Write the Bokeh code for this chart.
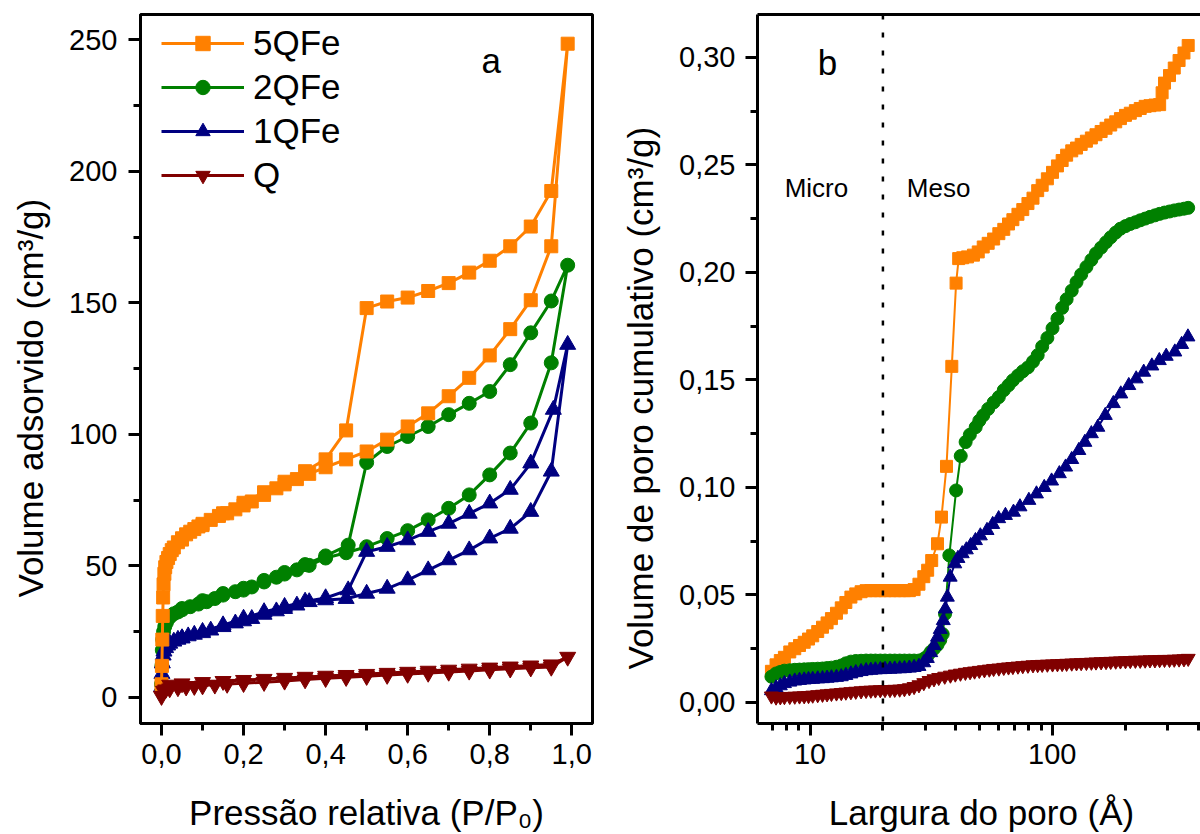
from bokeh.plotting import figure
from bokeh.layouts import row, column
from bokeh.models import (Range1d, FixedTicker, CustomJSTickFormatter, Legend, LegendItem,
                          Span, LogAxis, Label)
from bokeh.embed import file_html
from bokeh.resources import INLINE

FONT = "Liberation Sans"
C5, C2, C1, CQ = "#FF8000", "#008000", "#000080", "#800000"
NAMES = ["5QFe", "2QFe", "1QFe", "Q"]
PAD = "\u00a0" * 6
XLABEL_A = "Pressão relativa (P/P₀)"
XLABEL_B = "Largura do poro (Å)"
YLABEL_A = "Volume adsorvido (cm³/g)"
YLABEL_B = "Volume de poro cumulativo (cm³/g)"

# ---------------- Panel a: isotherms ----------------
p5_ads = [0.0, 0.001, 0.002, 0.003, 0.004, 0.005, 0.007, 0.009, 0.012, 0.016,
          0.02, 0.025, 0.03, 0.04, 0.05, 0.06, 0.07, 0.08, 0.09, 0.1,
          0.12, 0.14, 0.16, 0.18, 0.2, 0.22, 0.25, 0.28, 0.3, 0.33,
          0.36, 0.4, 0.45, 0.5, 0.55, 0.6, 0.65, 0.7, 0.75, 0.8,
          0.85, 0.9, 0.95, 0.99]
v5_ads = [5, 12, 22, 31, 38, 43, 47, 49.5, 51.5, 53,
          54.5, 56, 57, 59, 60.5, 62, 63, 64, 65, 65.5,
          67.5, 69, 70, 71.5, 73, 74.5, 77, 79.5, 81, 83,
          85, 87.5, 90.5, 93.5, 98, 103, 108, 114.5, 121.5, 130,
          140, 151, 171.5, 248.5]
p5_des = [0.95, 0.9, 0.85, 0.8, 0.75, 0.7, 0.65, 0.6, 0.55, 0.5,
          0.45, 0.4, 0.35, 0.3, 0.25, 0.2, 0.15, 0.1, 0.05]
v5_des = [192.5, 179, 171.5, 166, 161.5, 157.5, 154.5, 152, 150.5, 148,
          101.5, 90.5, 86, 82, 78, 74, 70, 66, 60]

p2_ads = [0.0, 0.001, 0.002, 0.003, 0.005, 0.008, 0.012, 0.02, 0.03, 0.04,
          0.05, 0.07, 0.09, 0.11, 0.13, 0.15, 0.18, 0.2, 0.22, 0.25,
          0.28, 0.3, 0.33, 0.36, 0.4, 0.45, 0.5, 0.55, 0.6, 0.65,
          0.7, 0.75, 0.8, 0.85, 0.9, 0.95, 0.99]
v2_ads = [5, 12, 18, 22, 25, 27, 28.5, 30.5, 31.8, 32.5,
          33.3, 34.5, 35.5, 36.4, 37.6, 38.9, 40.2, 40.8, 42, 43.9,
          45.7, 46.9, 48.5, 50.2, 53, 55, 57.3, 60.4, 63.4, 67.5,
          71.9, 77, 84.6, 92.9, 104.3, 127.2, 164.3]
p2_des = [0.95, 0.9, 0.85, 0.8, 0.75, 0.7, 0.65, 0.6, 0.55, 0.5,
          0.455, 0.4, 0.35, 0.3, 0.25, 0.2, 0.15, 0.1, 0.05]
v2_des = [150.7, 138.6, 126.5, 116.3, 111.8, 107.5, 103, 99.2, 95.4, 89.3,
          57.9, 53.8, 50.5, 47.5, 44.5, 41.5, 39.5, 36.8, 33.8]

p1_ads = [0.0, 0.001, 0.002, 0.004, 0.006, 0.01, 0.015, 0.02, 0.03, 0.04,
          0.05, 0.065, 0.08, 0.1, 0.12, 0.15, 0.18, 0.2, 0.22, 0.25,
          0.28, 0.3, 0.33, 0.36, 0.4, 0.45, 0.5, 0.55, 0.6, 0.65,
          0.7, 0.75, 0.8, 0.85, 0.9, 0.95, 0.99]
v1_ads = [4, 9, 13, 16, 17.5, 18.8, 19.8, 20.5, 21.3, 22,
          22.6, 23.3, 23.9, 24.5, 25.5, 26.8, 28.2, 29, 29.9, 31.5,
          32.8, 33.7, 35, 36.3, 37, 37.5, 39.5, 41.4, 44.6, 48.4,
          52.2, 56, 60.5, 64.2, 70.6, 85.9, 134.1]
p1_des = [0.955, 0.9, 0.85, 0.8, 0.75, 0.7, 0.65, 0.6, 0.55, 0.5,
          0.455, 0.4, 0.35, 0.3, 0.25, 0.2, 0.15, 0.1, 0.05]
v1_des = [109.4, 89, 79, 73.8, 69.9, 66.1, 63, 59.8, 57.3, 55.4,
          40.8, 37.8, 36.5, 34.5, 32.5, 30, 27.5, 25, 22.5]

pq_ads = [0.0, 0.005, 0.01, 0.02, 0.04, 0.06, 0.08, 0.1, 0.13, 0.16,
          0.2, 0.25, 0.3, 0.35, 0.4, 0.45, 0.5, 0.55, 0.6, 0.65,
          0.7, 0.75, 0.8, 0.85, 0.9, 0.95, 0.99]
vq_ads = [0.5, 2.5, 3.0, 3.4, 3.8, 4.1, 4.3, 4.5, 4.8, 5.1,
          5.4, 5.8, 6.3, 6.8, 7.3, 7.7, 8.1, 8.5, 8.9, 9.3,
          9.7, 10.1, 10.5, 10.9, 11.3, 11.6, 15.4]
pq_des = [0.95, 0.9, 0.85, 0.8, 0.75, 0.7, 0.65, 0.6, 0.55, 0.5,
          0.45, 0.4, 0.35, 0.3, 0.25, 0.2, 0.15, 0.1, 0.05, 0.02]
vq_des = [12.5, 12.1, 11.7, 11.3, 10.9, 10.5, 10.1, 9.7, 9.3, 8.9,
          8.5, 8.2, 7.8, 7.4, 7.0, 6.6, 6.2, 5.8, 5.3, 4.8]

a_xticks = [0.0, 0.2, 0.4, 0.6, 0.8, 1.0]
a_xminor = [0.1, 0.3, 0.5, 0.7, 0.9]
a_yticks = [0, 50, 100, 150, 200, 250]
a_yminor = [25, 75, 125, 175, 225]

# ---------------- Panel b: cumulative pore volume ----------------
w_low = [6.93, 7.24, 7.54, 7.84, 8.25, 8.65, 9.05, 9.46, 9.86, 10.26,
         10.76, 11.26, 11.76, 12.26, 12.86, 13.46, 14.06, 14.75, 15.45, 16.25,
         17.04, 17.83, 18.62, 19.51, 20.4, 21.39, 22.38, 23.46, 24.54, 25.72,
         26.9, 28.17]

b5_low = [0.0145, 0.0175, 0.0195, 0.021, 0.0235, 0.025, 0.0265, 0.028, 0.0295, 0.031,
          0.033, 0.035, 0.037, 0.039, 0.0415, 0.044, 0.0465, 0.049, 0.0505, 0.0515,
          0.052, 0.052, 0.052, 0.052, 0.052, 0.052, 0.052, 0.052, 0.052, 0.052,
          0.0525, 0.055]
w5_hi = [29.5, 30.6, 31.8, 33.6, 34.9, 36.6, 38.5, 40.1, 41.1,
         42.7, 44.7, 47.3, 49.5, 51.9, 54.4, 57.3, 60.2, 63.1, 66,
         68.8, 72.2, 75.6, 79.4, 83.3, 87.1, 90.9, 95.5, 100.3, 105.1,
         109.9, 114.7, 120.4, 126, 131.7, 138.4, 145.1, 151.6, 159.2, 166.8,
         174.4, 182.9, 191.3, 200.7, 210.1, 220.5, 230.9, 242, 253.3, 265.5,
         277.7, 284.3, 290.9, 305, 319.1, 334, 349.9, 364.3]
b5_hi = [0.0585, 0.0615, 0.066, 0.0738, 0.0862, 0.1098, 0.1563, 0.195, 0.2064,
         0.2068, 0.2072, 0.208, 0.2095, 0.2118, 0.2135, 0.2155, 0.218, 0.22, 0.2225,
         0.2245, 0.227, 0.2292, 0.232, 0.2345, 0.238, 0.2405, 0.2435, 0.2465, 0.2495,
         0.252, 0.2545, 0.2565, 0.2578, 0.2595, 0.261, 0.2625, 0.264, 0.2655, 0.267,
         0.2685, 0.27, 0.2715, 0.273, 0.274, 0.2752, 0.2762, 0.2772, 0.2775, 0.2778,
         0.278, 0.2835, 0.288, 0.2915, 0.295, 0.2985, 0.302, 0.3055]

b2_low = [0.012, 0.0135, 0.0142, 0.0148, 0.015, 0.0152, 0.0153, 0.0154, 0.0155, 0.0156,
          0.0157, 0.0158, 0.016, 0.0162, 0.0166, 0.0172, 0.0182, 0.019, 0.0193, 0.0194,
          0.0195, 0.0195, 0.0195, 0.0195, 0.0195, 0.0195, 0.0195, 0.0195, 0.0195, 0.0195,
          0.0195, 0.0195]
w2_hi = [29.5, 30.5, 31.5, 32.5, 33.6, 34.5, 35.3, 36.1, 37.6, 40.1, 41.9,
         43.9, 45.7, 48.3, 50, 51.9, 54.4, 57.3, 60.2, 63.1, 66,
         68.8, 72.2, 75.6, 79.4, 83.3, 87.1, 90.9, 95.5, 100.3, 105.1,
         109.9, 114.7, 120.4, 126, 131.7, 138.4, 145.1, 151.6, 159.2, 166.8,
         174.4, 182.9, 191.3, 200.7, 210.1, 220.5, 230.9, 242, 253.3, 265.5,
         277.7, 290.9, 305, 319.1, 334, 349.9, 364.3]
b2_hi = [0.0203, 0.0215, 0.0235, 0.025, 0.0268, 0.029, 0.0318, 0.0412, 0.0684, 0.0986, 0.1146,
         0.1211, 0.1245, 0.128, 0.131, 0.1335, 0.1365, 0.1395, 0.142, 0.1452, 0.1475,
         0.1498, 0.152, 0.154, 0.1558, 0.1585, 0.1615, 0.1655, 0.1695, 0.174, 0.1785,
         0.1835, 0.1875, 0.1915, 0.1955, 0.199, 0.2025, 0.2058, 0.2088, 0.2115, 0.214,
         0.2163, 0.2185, 0.2203, 0.2215, 0.2225, 0.2233, 0.2242, 0.225, 0.2258, 0.2265,
         0.2272, 0.2278, 0.2283, 0.2288, 0.2292, 0.2296, 0.23]

b1_low = [0.0055, 0.0068, 0.0078, 0.0088, 0.0095, 0.01, 0.0103, 0.0105, 0.0107, 0.0108,
          0.011, 0.0111, 0.0113, 0.0115, 0.0117, 0.012, 0.0126, 0.0133, 0.0139, 0.0144,
          0.0148, 0.015, 0.0152, 0.0153, 0.0154, 0.0155, 0.0156, 0.0157, 0.0158, 0.016,
          0.0163, 0.0168]
w1_hi = [29.5, 30.5, 31.5, 32.5, 33.6, 34.5, 35.5, 36.2, 36.9, 37.9, 39.6,
         40.8, 42.5, 44.2, 46.1, 48.2, 50.5, 53.8, 56.8, 60.1, 64.1,
         69.2, 73.6, 80.1, 86.1, 92.7, 99.4, 107, 113.6, 120.4, 128.8,
         136.4, 145.1, 154.3, 165.6, 178.8, 191.9, 207.1, 222.2, 238.7, 257.9,
         276.8, 295.6, 320.8, 342.3, 363.4]
b1_hi = [0.0185, 0.0205, 0.0232, 0.0265, 0.0304, 0.034, 0.0381, 0.0435, 0.049, 0.0583, 0.0645,
         0.067, 0.0692, 0.071, 0.073, 0.0753, 0.0775, 0.08, 0.0828, 0.0855, 0.087,
         0.0885, 0.091, 0.094, 0.097, 0.1, 0.103, 0.1064, 0.1095, 0.113, 0.1172,
         0.121, 0.125, 0.128, 0.1335, 0.139, 0.1435, 0.1474, 0.1505, 0.1536, 0.1565,
         0.159, 0.161, 0.163, 0.1665, 0.17]

bq_low = [0.003, 0.0025, 0.0026, 0.0027, 0.0028, 0.0029, 0.003, 0.0031, 0.0032, 0.0034,
          0.0036, 0.0038, 0.004, 0.0042, 0.0044, 0.0046, 0.0048, 0.005, 0.0052, 0.0054,
          0.0056, 0.0057, 0.0058, 0.0059, 0.006, 0.006, 0.0061, 0.0062, 0.0064, 0.0068,
          0.0074, 0.0082]
wq_hi = [29.5, 31, 32.5, 34, 36, 38, 39.8, 41.8, 43.8, 45.8,
         47.8, 50, 52.5, 55, 57.3, 60.2, 63.1, 66, 68.8, 72.2,
         75.6, 79.4, 83.3, 87.1, 90.9, 95.5, 100.3, 105.1, 109.9, 114.7,
         120.4, 126, 131.7, 138.4, 145.1, 151.6, 159.2, 166.8, 174.4, 182.9,
         191.3, 200.7, 210.1, 220.5, 230.9, 242, 253.3, 265.5, 277.7, 290.9,
         305, 319.1, 334, 349.9, 364.3]
bq_hi = [0.0092, 0.0102, 0.011, 0.0116, 0.0122, 0.0127, 0.0132, 0.0136, 0.014, 0.0143,
         0.0146, 0.0149, 0.0152, 0.0155, 0.0158, 0.016, 0.0163, 0.0165, 0.0167, 0.0169,
         0.0171, 0.0173, 0.0175, 0.0176, 0.0177, 0.0178, 0.0179, 0.018, 0.0181, 0.0182,
         0.0183, 0.0184, 0.0185, 0.0186, 0.0187, 0.0188, 0.0189, 0.019, 0.0191, 0.0192,
         0.0193, 0.0194, 0.0195, 0.0196, 0.0196, 0.0197, 0.0198, 0.0198, 0.0199, 0.02,
         0.02, 0.0201, 0.0202, 0.0203, 0.0205]

b_xticks = [10, 100]
b_xminor = [7, 8, 9, 20, 30, 40, 50, 60, 70, 80, 90, 200, 300, 400]
b_yticks = [0.0, 0.05, 0.10, 0.15, 0.20, 0.25, 0.30]
b_yminor = [0.025, 0.075, 0.125, 0.175, 0.225, 0.275]
micro_boundary = 20

PLOT_H = 790       # height of the two panels
STRIP_H = 834 - PLOT_H  # strip below them that carries the x-axis titles


def style_axis(ax, label):
    ax.axis_label = label
    ax.axis_label_text_font = FONT
    ax.axis_label_text_font_size = "35px"
    ax.axis_label_text_font_style = "normal"
    ax.axis_label_text_color = "black"
    ax.major_label_text_font = FONT
    ax.major_label_text_font_size = "29px"
    ax.major_label_text_color = "black"
    ax.axis_line_width = 3
    ax.axis_line_color = "black"
    ax.major_tick_line_width = 3
    ax.minor_tick_line_width = 3
    ax.major_tick_line_color = "black"
    ax.minor_tick_line_color = "black"
    ax.major_tick_in = 0
    ax.major_tick_out = 12
    ax.minor_tick_in = 0
    ax.minor_tick_out = 7


def title_strip(text, xc):
    s = figure(width=600, height=STRIP_H, output_backend="svg", toolbar_location=None,
               title=None, x_range=Range1d(0, 600), y_range=Range1d(0, STRIP_H),
               x_axis_location=None, y_axis_location=None,
               min_border_left=0, min_border_right=0, min_border_top=0, min_border_bottom=0)
    s.grid.visible = False
    s.outline_line_color = None
    s.background_fill_color = "white"
    s.border_fill_color = "white"
    s.add_layout(Label(x=xc, y=22, text=text, text_font=FONT, text_font_size="35px",
                       text_color="black", text_align="center", text_baseline="alphabetic"))
    return s


# ---------- figure a ----------
pa = figure(width=600, height=PLOT_H, output_backend="svg", toolbar_location=None, title=None,
            x_range=Range1d(-0.0512, 1.0505), y_range=Range1d(-9.9, 259.6),
            min_border_left=140, min_border_right=8, min_border_top=14, min_border_bottom=67)
pa.xgrid.visible = False
pa.ygrid.visible = False
pa.outline_line_color = "black"
pa.outline_line_width = 3
pa.background_fill_color = "white"
pa.border_fill_color = "white"

pa.xaxis.ticker = FixedTicker(ticks=a_xticks, minor_ticks=a_xminor)
pa.xaxis.formatter = CustomJSTickFormatter(code="return tick.toFixed(1).replace('.', ',');")
pa.yaxis.ticker = FixedTicker(ticks=a_yticks, minor_ticks=a_yminor)
style_axis(pa.xaxis[0], None)
style_axis(pa.yaxis[0], YLABEL_A + PAD)
pa.xaxis.major_label_standoff = 8
pa.yaxis.major_label_standoff = 11
pa.yaxis.axis_label_standoff = 16

series_a = {
    "5QFe": (p5_ads + p5_des, v5_ads + v5_des, C5, "square", 13),
    "2QFe": (p2_ads + p2_des, v2_ads + v2_des, C2, "circle", 14),
    "1QFe": (p1_ads + p1_des, v1_ads + v1_des, C1, "triangle", 16),
    "Q": (pq_ads + pq_des, vq_ads + vq_des, CQ, "inverted_triangle", 16),
}
rends = {}
for name in ["2QFe", "1QFe", "5QFe", "Q"]:
    xs, ys, col, mk, sz = series_a[name]
    ln = pa.line(xs, ys, line_color=col, line_width=3)
    sc = pa.scatter(xs, ys, marker=mk, size=sz, fill_color=col, line_color=col)
    rends[name] = [ln, sc]
items = [LegendItem(label=n, renderers=rends[n]) for n in NAMES]

leg = Legend(items=items, location=(21, 528), padding=0, margin=0, spacing=4,
             glyph_width=83, glyph_height=36, label_height=36, label_standoff=9,
             label_text_font=FONT, label_text_font_size="35px", label_text_color="black",
             border_line_color=None, background_fill_alpha=0)
pa.add_layout(leg)

pa.add_layout(Label(x=0.78, y=242, text="a", text_font=FONT, text_font_size="35px",
                    text_color="black", text_baseline="alphabetic", text_align="left"))

# ---------- figure b ----------
pb = figure(width=600, height=PLOT_H, output_backend="svg", toolbar_location=None, title=None,
            x_axis_type="log", x_range=Range1d(6.07, 409.5), y_range=Range1d(-0.00977, 0.3199),
            min_border_left=157, min_border_right=0, min_border_top=14, min_border_bottom=67)
pb.xgrid.visible = False
pb.ygrid.visible = False
pb.outline_line_color = None
pb.background_fill_color = "white"
pb.border_fill_color = "white"

pb.xaxis.ticker = FixedTicker(ticks=b_xticks, minor_ticks=b_xminor)
pb.xaxis.formatter = CustomJSTickFormatter(code="return tick.toFixed(0);")
pb.yaxis.ticker = FixedTicker(ticks=b_yticks, minor_ticks=b_yminor)
pb.yaxis.formatter = CustomJSTickFormatter(code="return tick.toFixed(2).replace('.', ',');")
style_axis(pb.xaxis[0], None)
style_axis(pb.yaxis[0], YLABEL_B + PAD)
pb.xaxis.major_label_standoff = 8
pb.yaxis.major_label_standoff = 10
pb.yaxis.axis_label_standoff = 16

top_ax = LogAxis(ticker=FixedTicker(ticks=[], minor_ticks=[]), axis_line_width=3,
                 axis_line_color="black", major_tick_out=0, minor_tick_out=0,
                 major_tick_in=0, minor_tick_in=0, major_label_text_font_size="0px",
                 major_label_standoff=0)
pb.add_layout(top_ax, "above")

pb.add_layout(Span(location=micro_boundary, dimension="height", line_color="black",
                   line_width=2.5, line_dash="5 13"))

series_b = [
    (w_low + w5_hi, b5_low + b5_hi, C5, "square", 12),
    (w_low + w2_hi, b2_low + b2_hi, C2, "circle", 13),
    (w_low + w1_hi, b1_low + b1_hi, C1, "triangle", 14),
    (w_low + wq_hi, bq_low + bq_hi, CQ, "inverted_triangle", 14),
]
for xs, ys, col, mk, sz in series_b:
    pb.line(xs, ys, line_color=col, line_width=2)
    pb.scatter(xs, ys, marker=mk, size=sz, fill_color=col, line_color=col)

pb.add_layout(Label(x=10.76, y=0.2975, text="b", text_font=FONT, text_font_size="35px",
                    text_color="black", text_baseline="alphabetic", text_align="left"))
pb.add_layout(Label(x=7.86, y=0.239, text="Micro", text_font=FONT, text_font_size="26px",
                    text_color="black", text_baseline="alphabetic", text_align="left"))
pb.add_layout(Label(x=25.1, y=0.239, text="Meso", text_font=FONT, text_font_size="26px",
                    text_color="black", text_baseline="alphabetic", text_align="left"))

sa = title_strip(XLABEL_A, 366)
sb = title_strip(XLABEL_B, 381)

layout = column(row(pa, pb, spacing=0), row(sa, sb, spacing=0), spacing=0)
open("out.html", "w").write(file_html(layout, INLINE))
